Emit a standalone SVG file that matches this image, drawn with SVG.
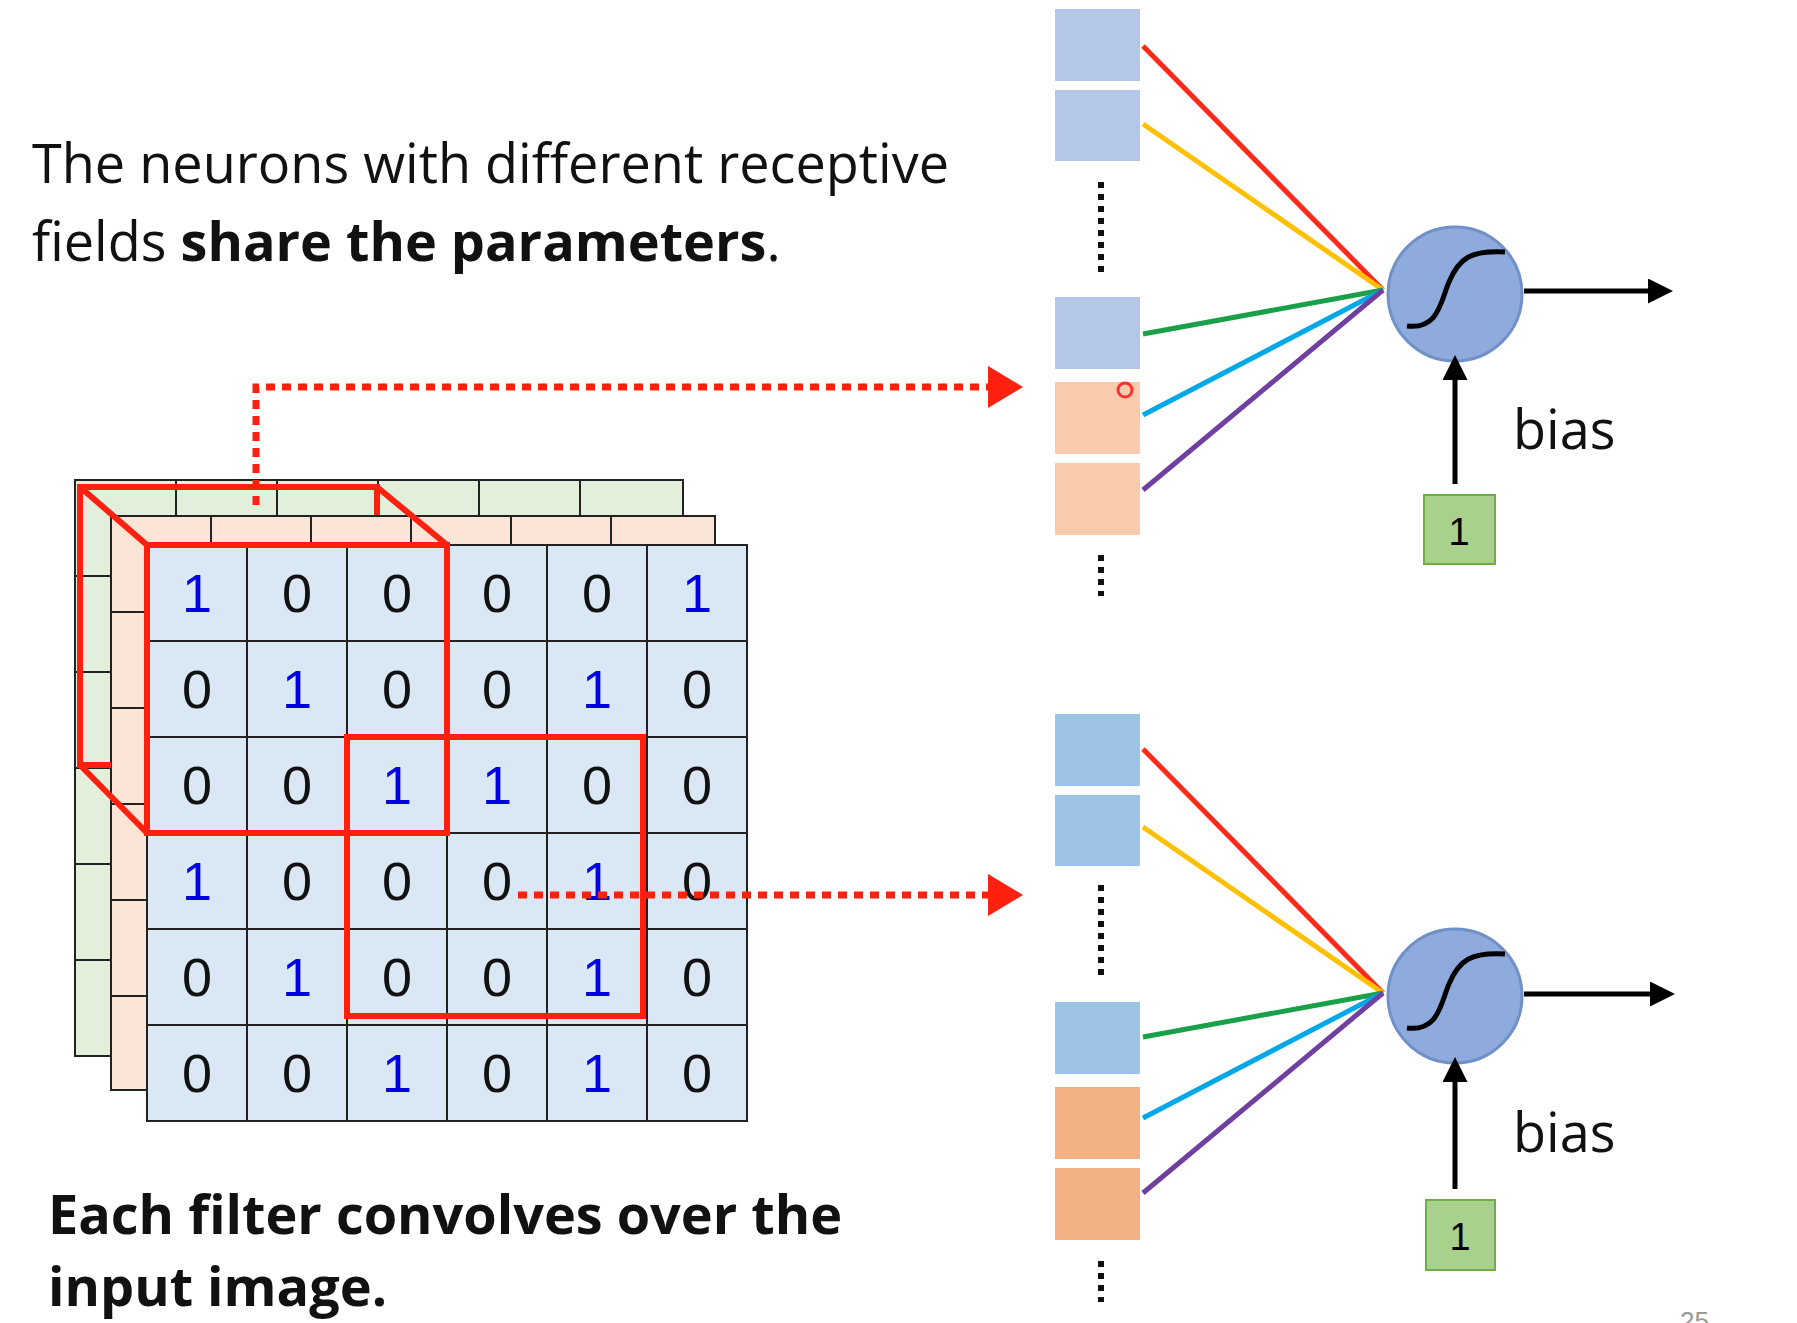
<svg xmlns="http://www.w3.org/2000/svg" width="1797" height="1323" viewBox="0 0 1797 1323">
<defs>
<style>
.g{stroke:#222;stroke-width:2;fill:none}
.d{font-family:"Liberation Sans",Arial,sans-serif;font-size:54px;text-anchor:middle}
.b{fill:#0000e0}
.k{fill:#111}
.rb{fill:none;stroke:#ff2010;stroke-width:6}
.dot{stroke:#ff2010;stroke-width:7;stroke-dasharray:9 7;fill:none}
.vd{stroke:#111;stroke-width:6;stroke-dasharray:6 6}
.t{font-family:"Open Sans","Liberation Sans",sans-serif;font-size:54px;fill:#111}
.neu{fill:#8faadc;stroke:#7090c8;stroke-width:3}
.ar{stroke:#000;stroke-width:5;fill:none}
</style>
<marker id="ra" markerWidth="6" markerHeight="6" refX="1" refY="3" orient="auto" markerUnits="strokeWidth"><path d="M0,0L5,3L0,6z" fill="#ff2010"/></marker>
<marker id="ka" markerWidth="5" markerHeight="5" refX="1" refY="2.5" orient="auto" markerUnits="strokeWidth"><path d="M0,0L5,2.5L0,5z" fill="#000"/></marker>
</defs>
<rect width="1797" height="1323" fill="#fff"/>
<g id="text-top">
<text class="t" x="32" y="183">The neurons with different receptive</text>
<text class="t" x="32" y="261">fields <tspan font-weight="bold">share the parameters</tspan>.</text>
</g>
<g id="text-bottom">
<text class="t" x="48" y="1234" font-weight="bold" font-size="50">Each filter convolves over the</text>
<text class="t" x="48" y="1306" font-weight="bold" font-size="50">input image.</text>
</g>
<text x="1680" y="1330" font-family="Liberation Sans,sans-serif" font-size="26" fill="#999">25</text>
<g id="layer-green">
<rect x="75" y="480" width="608" height="576" fill="#e2efda"/>
<g class="g"><rect x="75" y="480" width="608" height="576"/>
<path d="M176,480V516M277,480V516M378,480V516M479,480V516M580,480V516M75,576H111M75,672H111M75,768H111M75,864H111M75,960H111"/></g>
<rect class="rb" x="80" y="487" width="297" height="278"/>
</g>
<g id="layer-peach">
<rect x="111" y="516" width="604" height="574" fill="#fbe5d6" stroke="#222" stroke-width="2"/>
<path class="g" d="M211,516V545M311,516V545M411,516V545M511,516V545M611,516V545M111,612H147M111,708H147M111,804H147M111,900H147M111,996H147"/>
</g>
<g id="front-grid">
<rect x="147" y="545" width="600" height="576" fill="#dae8f5"/>
<path class="g" d="M147,545H747V1121H147ZM247,545V1121M347,545V1121M447,545V1121M547,545V1121M647,545V1121M147,641H747M147,737H747M147,833H747M147,929H747M147,1025H747"/>
<g class="d">
<text x="197" y="612" class="b">1</text><text x="297" y="612" class="k">0</text><text x="397" y="612" class="k">0</text><text x="497" y="612" class="k">0</text><text x="597" y="612" class="k">0</text><text x="697" y="612" class="b">1</text>
<text x="197" y="708" class="k">0</text><text x="297" y="708" class="b">1</text><text x="397" y="708" class="k">0</text><text x="497" y="708" class="k">0</text><text x="597" y="708" class="b">1</text><text x="697" y="708" class="k">0</text>
<text x="197" y="804" class="k">0</text><text x="297" y="804" class="k">0</text><text x="397" y="804" class="b">1</text><text x="497" y="804" class="b">1</text><text x="597" y="804" class="k">0</text><text x="697" y="804" class="k">0</text>
<text x="197" y="900" class="b">1</text><text x="297" y="900" class="k">0</text><text x="397" y="900" class="k">0</text><text x="497" y="900" class="k">0</text><text x="597" y="900" class="b">1</text><text x="697" y="900" class="k">0</text>
<text x="197" y="996" class="k">0</text><text x="297" y="996" class="b">1</text><text x="397" y="996" class="k">0</text><text x="497" y="996" class="k">0</text><text x="597" y="996" class="b">1</text><text x="697" y="996" class="k">0</text>
<text x="197" y="1092" class="k">0</text><text x="297" y="1092" class="k">0</text><text x="397" y="1092" class="b">1</text><text x="497" y="1092" class="k">0</text><text x="597" y="1092" class="b">1</text><text x="697" y="1092" class="k">0</text>
</g>
</g>
<g id="receptive-fields">
<path class="rb" d="M80,487V765M80,487H377M80,765H111M80,487L147,545M377,487L447,545M80,765L147,833"/>
<rect class="rb" x="147" y="545" width="300" height="288"/>
<rect class="rb" x="347" y="737" width="296" height="279"/>
</g>
<g id="connectors">
<path class="dot" d="M256,505V387H995" marker-end="url(#ra)"/>
<path class="dot" d="M518,895H995" marker-end="url(#ra)"/>
</g>
<g id="neuron-top" transform="translate(-7,0)">
<rect x="1062" y="9" width="85" height="72" fill="#b4c7e7"/>
<rect x="1062" y="90" width="85" height="71" fill="#b4c7e7"/>
<rect x="1062" y="297" width="85" height="72" fill="#b4c7e7"/>
<rect x="1062" y="382" width="85" height="72" fill="#f8cbad"/>
<rect x="1062" y="463" width="85" height="72" fill="#f8cbad"/>
<path class="vd" d="M1108,182V276M1108,555V596"/>
<circle cx="1132" cy="390" r="7" fill="none" stroke="#ff3030" stroke-width="3"/>
<g stroke-width="5" fill="none">
<path d="M1150,46L1390,290" stroke="#ff2a1a"/>
<path d="M1150,124L1390,290" stroke="#ffc000"/>
<path d="M1150,334L1390,290" stroke="#1aa048"/>
<path d="M1150,415L1390,290" stroke="#00a8e8"/>
<path d="M1150,490L1390,290" stroke="#7040a0"/>
</g>
<circle class="neu" cx="1462" cy="294" r="67"/>
<path d="M1414,326C1446,330 1448,300 1456,282 1466,258 1478,250 1512,252" stroke="#000" stroke-width="5" fill="none"/>
<path class="ar" d="M1531,291H1660" marker-end="url(#ka)"/>
<path class="ar" d="M1462,484V375" marker-end="url(#ka)"/>
<rect x="1431" y="495" width="71" height="69" fill="#a9d18e" stroke="#70ad47" stroke-width="2"/>
<text x="1466" y="545" font-family="Liberation Sans,sans-serif" font-size="38" text-anchor="middle">1</text>
<text x="1520" y="449" class="t" font-size="52">bias</text>
</g>
<g id="neuron-bottom" transform="translate(-7,0)">
<rect x="1062" y="714" width="85" height="72" fill="#9dc3e6"/>
<rect x="1062" y="795" width="85" height="71" fill="#9dc3e6"/>
<rect x="1062" y="1002" width="85" height="72" fill="#9dc3e6"/>
<rect x="1062" y="1087" width="85" height="72" fill="#f4b183"/>
<rect x="1062" y="1168" width="85" height="72" fill="#f4b183"/>
<path class="vd" d="M1108,885V981M1108,1261V1302"/>
<g stroke-width="5" fill="none">
<path d="M1150,749L1390,993" stroke="#ff2a1a"/>
<path d="M1150,827L1390,993" stroke="#ffc000"/>
<path d="M1150,1037L1390,993" stroke="#1aa048"/>
<path d="M1150,1118L1390,993" stroke="#00a8e8"/>
<path d="M1150,1193L1390,993" stroke="#7040a0"/>
</g>
<circle class="neu" cx="1462" cy="996" r="67"/>
<path d="M1414,1028C1446,1032 1448,1002 1456,984 1466,960 1478,952 1512,954" stroke="#000" stroke-width="5" fill="none"/>
<path class="ar" d="M1531,994H1662" marker-end="url(#ka)"/>
<path class="ar" d="M1462,1189V1077" marker-end="url(#ka)"/>
<rect x="1433" y="1200" width="69" height="70" fill="#a9d18e" stroke="#70ad47" stroke-width="2"/>
<text x="1467" y="1250" font-family="Liberation Sans,sans-serif" font-size="38" text-anchor="middle">1</text>
<text x="1520" y="1152" class="t" font-size="52">bias</text>
</g>
</svg>
